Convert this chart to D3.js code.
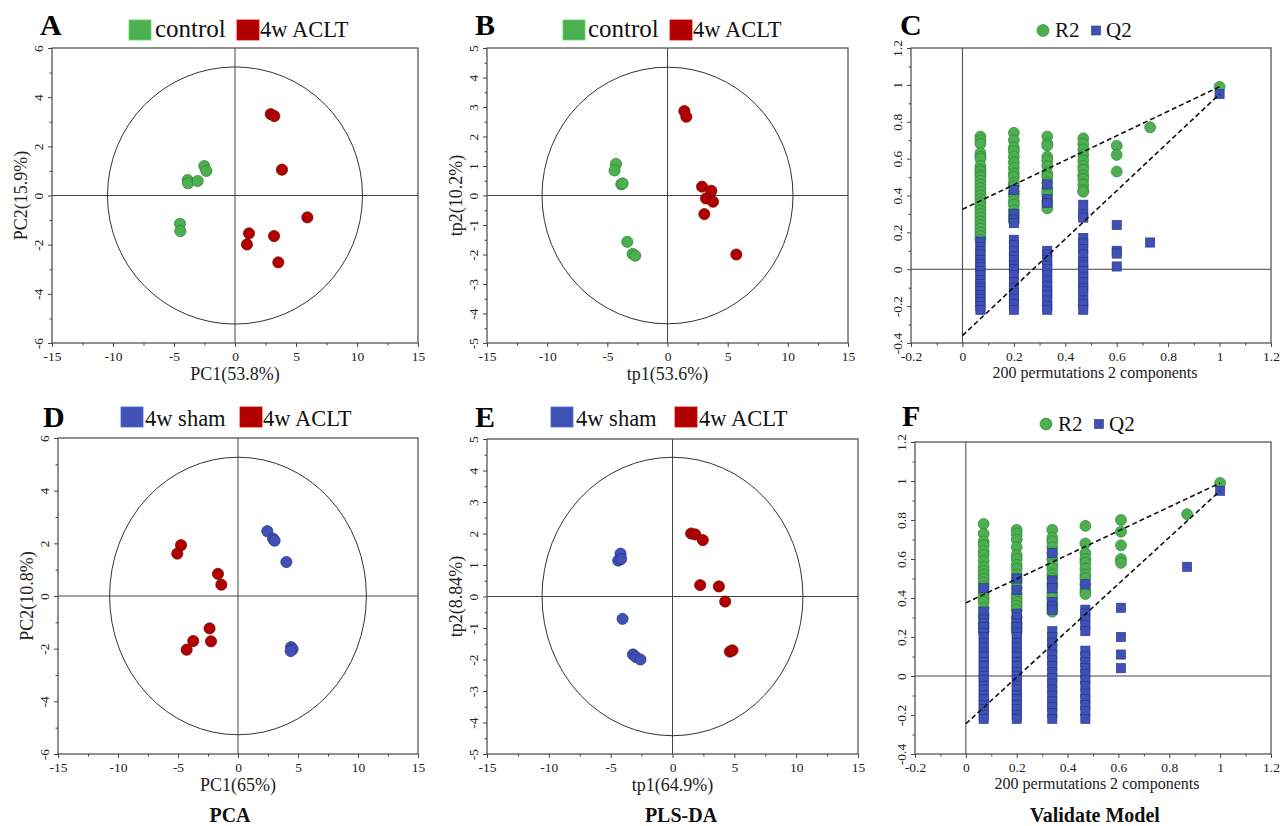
<!DOCTYPE html>
<html>
<head>
<meta charset="utf-8">
<script src="https://cdn.jsdelivr.net/npm/d3@7"></script>
<style>
  body { margin: 0; background: #fff; }
</style>
</head>
<body>
<div id="chart"></div>
<script>
const W = 1280, H = 826;
const FONT = "'Liberation Serif','Times New Roman',serif";
const GREEN = '#4caf50', GREEN_D = '#2e7d32';
const RED = '#b00000', RED_D = '#6e0000';
const BLUE = '#3f51b5', BLUE_D = '#25328a';

// ---- score plots (x, y) ----
const groupsABC = ['control', '4w ACLT'];
const groupsDE = ['4w sham', '4w ACLT'];

const aControl = [[-3.88,0.63],[-3.85,0.5],[-3.06,0.59],[-2.52,1.2],[-2.35,1.0],[-4.51,-1.15],[-4.48,-1.45]];
const aAclt = [[2.93,3.31],[3.22,3.23],[3.85,1.05],[5.93,-0.89],[1.15,-1.54],[0.98,-1.99],[3.2,-1.65],[3.55,-2.72]];
const bControl = [[-4.28,1.07],[-4.4,0.85],[-3.84,0.38],[-3.73,0.41],[-3.34,-1.57],[-2.9,-1.98],[-2.68,-2.04]];
const bAclt = [[1.4,2.86],[1.56,2.67],[2.87,0.3],[3.64,0.16],[3.2,-0.1],[3.78,-0.21],[3.06,-0.63],[5.72,-2.0]];
const dSham = [[2.44,2.46],[2.92,2.18],[3.05,2.1],[4.03,1.29],[4.42,-1.94],[4.55,-2.02],[4.39,-2.09]];
const dAclt = [[-4.75,1.93],[-5.06,1.61],[-1.67,0.84],[-1.39,0.43],[-2.37,-1.23],[-2.25,-1.72],[-3.73,-1.71],[-4.28,-2.04]];
const eSham = [[-4.2,1.36],[-4.39,1.14],[-4.15,1.19],[-4.04,-0.71],[-3.2,-1.84],[-2.96,-1.92],[-2.59,-2.0]];
const eAclt = [[1.51,2.0],[1.84,1.97],[2.45,1.79],[2.24,0.36],[3.75,0.32],[4.26,-0.16],[4.64,-1.75],[4.85,-1.71]];

// Hotelling T2 ellipse radii (x, y)
const ellA = [10.45, 5.23];
const ellB = [10.43, 4.35];
const ellD = [10.7, 5.27];
const ellE = [10.55, 4.42];

const titlesA = ['PC1(53.8%)', 'PC2(15.9%)'];
const titlesB = ['tp1(53.6%)', 'tp2(10.2%)'];
const titlesD = ['PC1(65%)', 'PC2(10.8%)'];
const titlesE = ['tp1(64.9%)', 'tp2(8.84%)'];

// ---- permutation tests ----
const permLegend = ['R2', 'Q2'];
const permTitle = '200 permutations 2 components';

const cX = [0.07, 0.2, 0.33, 0.47, 0.6, 0.73, 1];
const cR2 = [
  [0.72,0.7,0.68,0.63,0.61,0.6,0.56,0.54,0.53,0.51,0.5,0.48,0.46,0.44,0.42,0.4,0.38,0.36,0.34,0.32,0.3,0.28,0.26,0.24,0.22,0.2,0.18,0.16],
  [0.74,0.7,0.66,0.64,0.61,0.58,0.55,0.52,0.5,0.47,0.45,0.42,0.4,0.37,0.35,0.32,0.3,0.28,0.26],
  [0.72,0.68,0.67,0.61,0.59,0.56,0.52,0.5,0.47,0.44,0.42,0.4,0.37,0.35,0.33],
  [0.71,0.68,0.65,0.62,0.59,0.56,0.54,0.51,0.49,0.46,0.43,0.42],
  [0.67,0.62,0.53],
  [0.77],
  [0.99]
];
const cQ2 = [
  [0.15,0.12,0.1,0.08,0.05,0.03,0.01,-0.01,-0.03,-0.06,-0.08,-0.1,-0.12,-0.14,-0.16,-0.18,-0.2,-0.22],
  [0.43,0.3,0.27,0.25,0.16,0.13,0.1,0.07,0.05,0.02,0,-0.03,-0.07,-0.1,-0.13,-0.16,-0.19,-0.22],
  [0.46,0.38,0.36,0.1,0.08,0.05,0.02,0,-0.03,-0.06,-0.09,-0.12,-0.14,-0.17,-0.2,-0.22],
  [0.35,0.3,0.28,0.17,0.14,0.11,0.08,0.04,0.02,-0.01,-0.04,-0.07,-0.1,-0.12,-0.17,-0.19,-0.22],
  [0.24,0.1,0.085,0.015],
  [0.145],
  [0.95]
];
const cIntercepts = [0.325, -0.36]; // R2, Q2

const fX = [0.07, 0.2, 0.34, 0.47, 0.61, 0.87, 1];
const fR2 = [
  [0.78,0.73,0.69,0.67,0.64,0.62,0.59,0.56,0.54,0.52,0.5,0.48,0.46,0.44,0.42,0.4,0.38,0.35,0.32,0.3,0.27,0.25,0.23],
  [0.75,0.73,0.7,0.66,0.62,0.6,0.57,0.55,0.52,0.5,0.48,0.45,0.42,0.4,0.38,0.36,0.34,0.3,0.27,0.25,0.23],
  [0.75,0.71,0.69,0.66,0.63,0.6,0.57,0.55,0.52,0.5,0.47,0.45,0.42,0.4,0.37,0.35,0.33],
  [0.77,0.68,0.63,0.6,0.58,0.55,0.52,0.5,0.47,0.44,0.42],
  [0.8,0.74,0.67,0.6,0.58],
  [0.83],
  [0.99]
];
const fQ2 = [
  [0.45,0.33,0.29,0.27,0.25,0.22,0.2,0.17,0.15,0.12,0.1,0.07,0.05,0.02,0,-0.02,-0.05,-0.07,-0.1,-0.12,-0.15,-0.17,-0.2,-0.22],
  [0.5,0.44,0.32,0.3,0.27,0.25,0.22,0.2,0.17,0.15,0.12,0.1,0.07,0.05,0.02,0,-0.02,-0.05,-0.07,-0.1,-0.12,-0.15,-0.17,-0.2,-0.22],
  [0.63,0.49,0.45,0.38,0.36,0.34,0.23,0.2,0.17,0.14,0.11,0.08,0.05,0.02,-0.01,-0.04,-0.07,-0.1,-0.13,-0.16,-0.19,-0.22],
  [0.47,0.34,0.32,0.29,0.26,0.23,0.13,0.1,0.07,0.04,0.01,-0.02,-0.05,-0.09,-0.12,-0.15,-0.18,-0.22],
  [0.35,0.2,0.11,0.04],
  [0.56],
  [0.95]
];
const fIntercepts = [0.375, -0.245];

const panelLetters = ['A', 'B', 'C', 'D', 'E', 'F'];
const bottomLabels = ['PCA', 'PLS-DA', 'Validate Model'];

const svg = d3.select('#chart').append('svg').attr('width', W).attr('height', H)
  .style('background', '#fff');

const fmt = d => String(+d.toFixed(1));

function frame(p) {
  const x = d3.scaleLinear().domain(p.xDom).range([p.left, p.right]);
  const y = d3.scaleLinear().domain(p.yDom).range([p.bottom, p.top]);
  const g = svg.append('g');

  // zero lines
  g.append('line').attr('x1', x(0)).attr('x2', x(0)).attr('y1', p.top).attr('y2', p.bottom)
    .attr('stroke', '#444').attr('stroke-width', 1);
  g.append('line').attr('x1', p.left).attr('x2', p.right).attr('y1', y(0)).attr('y2', y(0))
    .attr('stroke', '#444').attr('stroke-width', 1);

  g.append('rect').attr('x', p.left).attr('y', p.top)
    .attr('width', p.right - p.left).attr('height', p.bottom - p.top)
    .attr('fill', 'none').attr('stroke', '#555').attr('stroke-width', 1.3);

  const xa = g.append('g').attr('transform', 'translate(0,' + p.bottom + ')')
    .call(d3.axisBottom(x).tickValues(p.xTicks).tickSize(4).tickPadding(4).tickFormat(fmt));
  xa.select('.domain').remove();
  xa.attr('font-family', FONT).attr('font-size', 13.5).attr('color', '#444');
  xa.selectAll('text').attr('fill', '#222');

  g.append('g').attr('transform', 'translate(0,' + p.bottom + ')')
    .call(d3.axisBottom(x).tickValues(p.xMinor).tickSize(2.5).tickFormat(''))
    .attr('color', '#444').select('.domain').remove();

  const ya = g.append('g').attr('transform', 'translate(' + p.left + ',0)')
    .call(d3.axisLeft(y).tickValues(p.yTicks).tickSize(4).tickFormat(fmt));
  ya.select('.domain').remove();
  ya.attr('font-family', FONT).attr('font-size', 13.5).attr('color', '#444');
  ya.selectAll('text').attr('fill', '#222')
    .attr('transform', 'rotate(-90)').attr('x', 0).attr('y', -9).attr('dy', 0)
    .attr('text-anchor', 'middle');

  g.append('g').attr('transform', 'translate(' + p.left + ',0)')
    .call(d3.axisLeft(y).tickValues(p.yMinor).tickSize(2.5).tickFormat(''))
    .attr('color', '#444').select('.domain').remove();

  return { g, x, y };
}

function scorePanel(p) {
  const { g, x, y } = frame(p);
  const kx = x(p.ell[0]) - x(0), ky = y(0) - y(p.ell[1]);
  g.append('ellipse').attr('cx', x(0)).attr('cy', y(0)).attr('rx', kx).attr('ry', ky)
    .attr('fill', 'none').attr('stroke', '#333').attr('stroke-width', 1);

  p.series.forEach(s => {
    g.append('g').selectAll('circle').data(s.data).enter().append('circle')
      .attr('cx', d => x(d[0])).attr('cy', d => y(d[1])).attr('r', 5.6)
      .attr('fill', s.color).attr('stroke', s.stroke).attr('stroke-width', 0.7);
  });

  svg.append('text').attr('x', (p.left + p.right) / 2).attr('y', p.bottom + 37)
    .attr('text-anchor', 'middle').attr('font-family', FONT).attr('font-size', 18)
    .attr('fill', '#222').text(p.titles[0]);
  svg.append('text')
    .attr('transform', 'translate(' + (p.left - 25) + ',' + ((p.top + p.bottom) / 2) + ')rotate(-90)')
    .attr('text-anchor', 'middle').attr('font-family', FONT).attr('font-size', 18)
    .attr('fill', '#222').text(p.titles[1]);
}

function permPanel(p) {
  const { g, x, y } = frame(p);
  const flat = (xs, cols) => cols.flatMap((c, i) => c.map(v => [xs[i], v]));
  const r2 = flat(p.xs, p.r2), q2 = flat(p.xs, p.q2);
  const last = p.xs.length - 1;

  g.append('g').selectAll('circle').data(r2).enter().append('circle')
    .attr('cx', d => x(d[0])).attr('cy', d => y(d[1])).attr('r', 5.5)
    .attr('fill', GREEN).attr('stroke', GREEN_D).attr('stroke-width', 0.6);
  g.append('g').selectAll('rect').data(q2).enter().append('rect')
    .attr('x', d => x(d[0]) - 4.6).attr('y', d => y(d[1]) - 4.6)
    .attr('width', 9.2).attr('height', 9.2)
    .attr('fill', BLUE).attr('stroke', BLUE_D).attr('stroke-width', 0.6);

  // regression lines
  const ends = [p.r2[last][0], p.q2[last][0]];
  p.icpt.forEach((b, i) => {
    g.append('line').attr('x1', x(0)).attr('y1', y(b)).attr('x2', x(p.xs[last])).attr('y2', y(ends[i]))
      .attr('stroke', '#111').attr('stroke-width', 1.6).attr('stroke-dasharray', '5,3');
  });

  svg.append('text').attr('x', (p.left + p.right) / 2 + 4).attr('y', p.bottom + 35)
    .attr('text-anchor', 'middle').attr('font-family', FONT).attr('font-size', 16)
    .attr('fill', '#222').text(permTitle);
}

// panel A
scorePanel({
  left: 52, right: 418, top: 48, bottom: 343,
  xDom: [-15, 15], yDom: [-6, 6],
  xTicks: d3.range(-15, 16, 5), xMinor: d3.range(-12.5, 15, 5),
  yTicks: d3.range(-6, 7, 2), yMinor: d3.range(-5, 6, 2),
  ell: ellA, titles: titlesA,
  series: [{ data: aControl, color: GREEN, stroke: GREEN_D }, { data: aAclt, color: RED, stroke: RED_D }]
});
// panel B
scorePanel({
  left: 487, right: 848, top: 48, bottom: 343,
  xDom: [-15, 15], yDom: [-5, 5],
  xTicks: d3.range(-15, 16, 5), xMinor: d3.range(-12.5, 15, 5),
  yTicks: d3.range(-5, 6, 1), yMinor: d3.range(-4.5, 5, 1),
  ell: ellB, titles: titlesB,
  series: [{ data: bControl, color: GREEN, stroke: GREEN_D }, { data: bAclt, color: RED, stroke: RED_D }]
});
// panel C
permPanel({
  left: 911, right: 1271, top: 48, bottom: 343,
  xDom: [-0.2, 1.2], yDom: [-0.4, 1.2],
  xTicks: d3.range(-0.2, 1.21, 0.2), xMinor: d3.range(-0.1, 1.2, 0.2),
  yTicks: d3.range(-0.4, 1.21, 0.2), yMinor: d3.range(-0.3, 1.2, 0.2),
  xs: cX, r2: cR2, q2: cQ2, icpt: cIntercepts
});
// panel D
scorePanel({
  left: 58, right: 418, top: 438, bottom: 754,
  xDom: [-15, 15], yDom: [-6, 6],
  xTicks: d3.range(-15, 16, 5), xMinor: d3.range(-12.5, 15, 5),
  yTicks: d3.range(-6, 7, 2), yMinor: d3.range(-5, 6, 2),
  ell: ellD, titles: titlesD,
  series: [{ data: dSham, color: BLUE, stroke: BLUE_D }, { data: dAclt, color: RED, stroke: RED_D }]
});
// panel E
scorePanel({
  left: 487, right: 858, top: 439, bottom: 754,
  xDom: [-15, 15], yDom: [-5, 5],
  xTicks: d3.range(-15, 16, 5), xMinor: d3.range(-12.5, 15, 5),
  yTicks: d3.range(-5, 6, 1), yMinor: d3.range(-4.5, 5, 1),
  ell: ellE, titles: titlesE,
  series: [{ data: eSham, color: BLUE, stroke: BLUE_D }, { data: eAclt, color: RED, stroke: RED_D }]
});
// panel F
permPanel({
  left: 915, right: 1271, top: 442, bottom: 754,
  xDom: [-0.2, 1.2], yDom: [-0.4, 1.2],
  xTicks: d3.range(-0.2, 1.21, 0.2), xMinor: d3.range(-0.1, 1.2, 0.2),
  yTicks: d3.range(-0.4, 1.21, 0.2), yMinor: d3.range(-0.3, 1.2, 0.2),
  xs: fX, r2: fR2, q2: fQ2, icpt: fIntercepts
});

// legends
function squareLegend(items, top, base) {
  items.forEach(it => {
    svg.append('rect').attr('x', it.sx).attr('y', top).attr('width', 22).attr('height', 20)
      .attr('fill', it.color).attr('stroke', d3.color(it.color).brighter(0.6)).attr('stroke-width', 0.8);
    svg.append('text').attr('x', it.tx).attr('y', base).attr('font-family', FONT)
      .attr('font-size', it.fs).attr('fill', '#111').text(it.label);
  });
}
squareLegend([{ sx: 129, tx: 155, fs: 25, color: GREEN, label: groupsABC[0] }, { sx: 237, tx: 260, fs: 22.5, color: RED, label: groupsABC[1] }], 20, 37);
squareLegend([{ sx: 563, tx: 588, fs: 25, color: GREEN, label: groupsABC[0] }, { sx: 670, tx: 693, fs: 22.5, color: RED, label: groupsABC[1] }], 20, 37);
squareLegend([{ sx: 121, tx: 145, fs: 22.5, color: BLUE, label: groupsDE[0] }, { sx: 240, tx: 263, fs: 22.5, color: RED, label: groupsDE[1] }], 407, 426);
squareLegend([{ sx: 551, tx: 576, fs: 22.5, color: BLUE, label: groupsDE[0] }, { sx: 675, tx: 699, fs: 22.5, color: RED, label: groupsDE[1] }], 407, 426);

function permLegendAt(cx, cy, qx) {
  svg.append('circle').attr('cx', cx).attr('cy', cy).attr('r', 6)
    .attr('fill', GREEN).attr('stroke', GREEN_D).attr('stroke-width', 0.6);
  svg.append('text').attr('x', cx + 12).attr('y', cy + 6.5).attr('font-family', FONT)
    .attr('font-size', 21).attr('fill', '#111').text(permLegend[0]);
  svg.append('rect').attr('x', qx - 4.5).attr('y', cy - 4.5).attr('width', 9).attr('height', 9)
    .attr('fill', BLUE).attr('stroke', BLUE_D).attr('stroke-width', 0.6);
  svg.append('text').attr('x', qx + 10).attr('y', cy + 6.5).attr('font-family', FONT)
    .attr('font-size', 21).attr('fill', '#111').text(permLegend[1]);
}
permLegendAt(1043, 30.5, 1096);
permLegendAt(1046, 424, 1099);

// panel letters
const letterPos = [[40, 35], [475, 35], [900, 35], [43, 427], [475, 427], [902, 426]];
panelLetters.forEach((l, i) => {
  svg.append('text').attr('x', letterPos[i][0]).attr('y', letterPos[i][1])
    .attr('font-family', FONT).attr('font-weight', 'bold').attr('font-size', 30)
    .attr('fill', '#000').text(l);
});

// bottom captions
[230, 681, 1095].forEach((cx, i) => {
  svg.append('text').attr('x', cx).attr('y', 822).attr('text-anchor', 'middle')
    .attr('font-family', FONT).attr('font-weight', 'bold').attr('font-size', 20)
    .attr('fill', '#111').text(bottomLabels[i]);
});
</script>
</body>
</html>
